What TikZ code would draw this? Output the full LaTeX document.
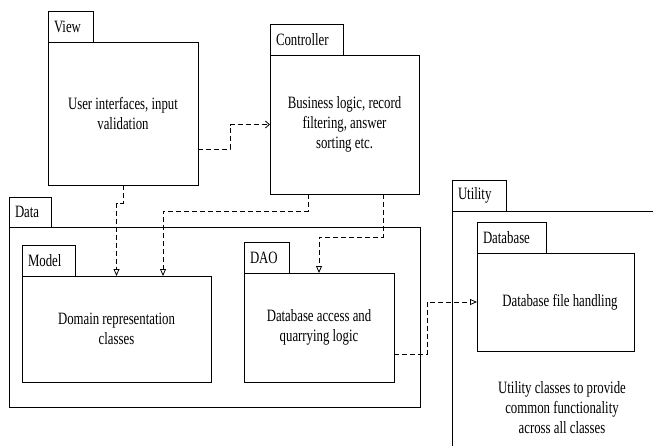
\documentclass[tikz,border=0pt]{standalone}
\usepackage{fontspec}
\setmainfont{Liberation Serif}[FakeStretch=0.74]
\usetikzlibrary{arrows.meta,positioning,calc}
\tikzset{>=latex}
\tikzset{
  pkg/.style={draw, line width=0.8pt, outer sep=0pt, align=center, inner sep=2pt, font=\fontsize{17.3}{20}\selectfont},
  pkgtab/.style={draw, line width=0.8pt, outer sep=0pt, anchor=south west, align=left, inner xsep=6pt, inner ysep=0pt, minimum height=31pt, font=\fontsize{17.3}{20}\selectfont},
  dep/.style={dash pattern=on 5pt off 3pt, line width=0.8pt, -{Triangle[open,length=7pt,width=6pt]}},
}

\begin{document}
\begin{tikzpicture}[x=1pt,y=-1pt]
\useasboundingbox (0,0) rectangle (653,445);

\node [pkg, minimum width=150pt, minimum height=143pt] (view) at (123,113.5) {User interfaces, input\\validation};
\node [pkgtab, text width=33pt] (viewtab) at (view.north west) {View};

\node [pkg, minimum width=149pt, minimum height=139pt] (controller) at (344.5,124.5) {Business logic, record\\filtering, answer\\sorting etc.};
\node [pkgtab, text width=61pt] (controllertab) at (controller.north west) {Controller};

\node [pkg, minimum width=411pt, minimum height=180pt] (data) at (214.5,317) {};
\node [pkgtab, text width=30pt, minimum height=30pt] (datatab) at (data.north west) {Data};

\node [pkg, minimum width=189pt, minimum height=106pt] (model) at (116.5,329) {Domain representation\\classes};
\node [pkgtab, text width=41pt] (modeltab) at (model.north west) {Model};

\node [pkg, minimum width=150pt, minimum height=109pt] (dao) at (319,327.5) {Database access and\\quarrying logic};
\node [pkgtab, text width=33pt] (daotab) at (dao.north west) {DAO};

\node [pkg, minimum width=248pt, minimum height=269pt] (utility) at (576,345.5) {};
\node [pkgtab, text width=42pt] (utilitytab) at (utility.north west) {Utility};

\node [pkg, minimum width=157pt, minimum height=98pt] (database) at (555.5,302) {\hspace*{9pt}Database file handling};
\node [pkgtab, text width=57pt] (databasetab) at (database.north west) {Database};

\node [align=center, font=\fontsize{17.3}{20}\selectfont] (utilitytext) at (562,408) {Utility classes to provide\\common functionality\\across all classes};

\begin{scope}[dep]
\draw[-{Straight Barb[length=4pt,width=7pt]}] ([yshift=-35.5pt]view.east) -- ++(32,0) |- (controller.west);
\draw (view.south) -- ++(0,18) -| (model.north);
\draw ([xshift=-36.5pt]controller.south) -- ++(0,17) -| ([xshift=46.5pt]model.north);
\draw ([xshift=38.5pt]controller.south) -- ++(0,43) -| (dao.north);
\draw ([yshift=-26.5pt]dao.east) -- ++(33,0) |- (database.west);
\end{scope}

\end{tikzpicture}
\end{document}
